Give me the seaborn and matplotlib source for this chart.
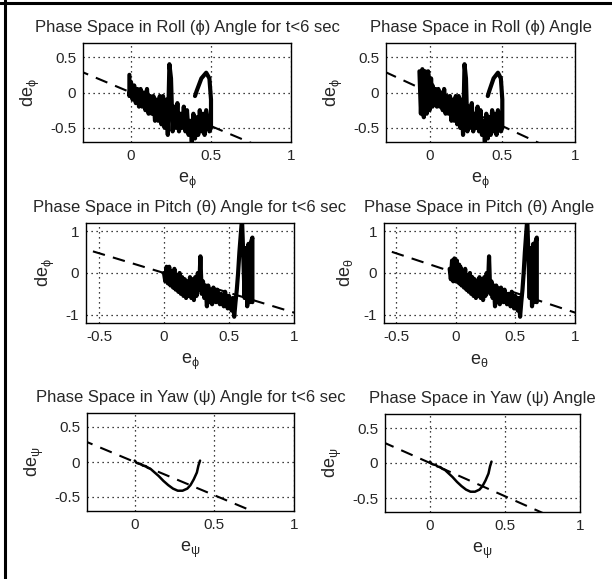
import numpy as np
import matplotlib
matplotlib.use("Agg")
import matplotlib.pyplot as plt
import seaborn as sns
from matplotlib.lines import Line2D

sns.set_style("white")
plt.rcParams['font.family'] = ['Liberation Sans', 'DejaVu Sans']
plt.rcParams['mathtext.default'] = 'regular'
plt.rcParams['font.size'] = 11

# sliding surface slope (de = slope * e)
surface_slope = -0.95
surface_e = [-0.7, 1.1]

# roll, t < 6 s
roll_e_t6 = [0.40, 0.41, 0.44, 0.47, 0.49, 0.50, 0.50, 0.49,
             0.47, 0.46, 0.45, 0.44, 0.43, 0.42, 0.41, 0.40, 0.39, 0.38, 0.37, 0.36,
             0.35, 0.34, 0.33, 0.32, 0.31, 0.30, 0.29, 0.28, 0.27, 0.26, 0.25, 0.24,
             0.23, 0.22, 0.21, 0.20, 0.19, 0.18, 0.17, 0.16, 0.15, 0.14, 0.13, 0.12,
             0.11, 0.10, 0.09, 0.08, 0.07, 0.06, 0.05, 0.04, 0.03, 0.02, 0.01, 0.00,
             -0.01, -0.01]
roll_de_t6 = [-0.05, 0.02, 0.20, 0.28, 0.20, -0.10, -0.50, -0.55,
              -0.25, -0.60, -0.30, -0.55, -0.25, -0.60, -0.35, -0.65, -0.30, -0.70, -0.40, -0.60,
              -0.25, -0.55, -0.20, -0.50, -0.30, -0.55, -0.15, -0.50, -0.20, -0.55, 0.20, 0.40,
              -0.60, -0.10, -0.50, -0.05, -0.45, -0.05, -0.40, -0.10, -0.40, -0.05, -0.30, -0.05,
              -0.30, 0.05, -0.25, 0.00, -0.20, 0.05, -0.20, 0.05, -0.15, 0.10, -0.10, 0.15,
              -0.05, 0.25]
# roll, extra chattering near the origin for the full run
roll_e_extra = [-0.07, -0.06, -0.05, -0.04, -0.03, -0.02, -0.01, 0.00, 0.01, 0.02, 0.00]
roll_de_extra = [0.30, -0.30, 0.33, -0.35, 0.30, -0.30, 0.30, -0.25, 0.20, -0.20, 0.00]

# pitch, t < 6 s
pitch_e_t6 = [0.00, 0.01, 0.02, 0.03, 0.04, 0.05, 0.06, 0.07, 0.08, 0.09, 0.10, 0.11,
              0.12, 0.13, 0.14, 0.15, 0.16, 0.17, 0.18, 0.19, 0.20, 0.21, 0.22, 0.23,
              0.24, 0.25, 0.26, 0.27, 0.28, 0.29, 0.30, 0.31, 0.32, 0.33, 0.34, 0.35,
              0.36, 0.37, 0.38, 0.40, 0.41, 0.43, 0.44, 0.46, 0.47, 0.49, 0.50, 0.52,
              0.53, 0.54, 0.55, 0.56, 0.57, 0.58, 0.59, 0.60, 0.61, 0.62, 0.63, 0.64,
              0.65, 0.66, 0.67, 0.68, 0.68]
pitch_de_t6 = [0.00, -0.20, 0.15, -0.25, 0.15, -0.30, 0.05, -0.35, 0.10, -0.40, -0.05, -0.45,
               0.00, -0.50, -0.10, -0.55, -0.15, -0.60, -0.20, -0.55, -0.10, -0.60, -0.15, -0.65,
               -0.10, -0.55, 0.00, -0.40, 0.40, -0.50, -0.20, -0.60, -0.30, -0.80, -0.30, -0.70,
               -0.40, -0.75, -0.35, -0.70, -0.40, -0.75, -0.50, -0.80, -0.45, -0.85, -0.55, -0.90,
               -0.60, -1.05, -0.70, -0.40, 0.00, 0.50, 0.90, 1.30, 0.40, -0.60, 0.60, -0.80,
               0.70, -0.70, 0.75, 0.85, -0.70]
pitch_e_extra = [-0.05, -0.04, -0.03, -0.02, -0.01, 0.00, 0.01, 0.02, 0.03, 0.00]
pitch_de_extra = [0.10, -0.15, 0.30, -0.20, 0.35, -0.20, 0.30, -0.15, 0.20, 0.00]

# yaw
yaw_e = [0.00, 0.01, 0.02, 0.04, 0.05, 0.07, 0.08, 0.10, 0.12, 0.15, 0.18, 0.21,
         0.24, 0.27, 0.30, 0.33, 0.35, 0.37, 0.39, 0.40, 0.41]
yaw_de = [0.02, -0.01, -0.02, -0.03, -0.05, -0.06, -0.08, -0.10, -0.14, -0.20, -0.27, -0.33,
          -0.38, -0.41, -0.41, -0.38, -0.33, -0.25, -0.15, -0.05, 0.02]

W, H = 612, 579
fig = plt.figure(figsize=(W / 100, H / 100), dpi=100)

panels = [
    # (left, top, right, bottom) px, title, e, de, xlabel, ylabel, xlim, ylim, xticks, yticks
    ((83, 43, 291, 142), 'Phase Space in Roll (ϕ) Angle for t<6 sec',
     roll_e_t6, roll_de_t6, 'e$_ϕ$', 'de$_ϕ$', (-0.3, 1), (-0.7, 0.7), [0, 0.5, 1], [-0.5, 0, 0.5]),
    ((386, 43, 575, 142), 'Phase Space in Roll (ϕ) Angle',
     roll_e_t6 + roll_e_extra, roll_de_t6 + roll_de_extra, 'e$_ϕ$', 'de$_ϕ$',
     (-0.3, 1), (-0.7, 0.7), [0, 0.5, 1], [-0.5, 0, 0.5]),
    ((86, 223, 294, 323), 'Phase Space in Pitch (θ) Angle for t<6 sec',
     pitch_e_t6, pitch_de_t6, 'e$_ϕ$', 'de$_ϕ$', (-0.6, 1), (-1.2, 1.2), [-0.5, 0, 0.5, 1], [-1, 0, 1]),
    ((384, 223, 575, 323), 'Phase Space in Pitch (θ) Angle',
     pitch_e_extra + pitch_e_t6, pitch_de_extra + pitch_de_t6, 'e$_θ$', 'de$_θ$',
     (-0.6, 1), (-1.2, 1.2), [-0.5, 0, 0.5, 1], [-1, 0, 1]),
    ((87, 413, 294, 511), 'Phase Space in Yaw (ψ) Angle for t<6 sec',
     yaw_e, yaw_de, 'e$_ψ$', 'de$_ψ$', (-0.3, 1), (-0.7, 0.7), [0, 0.5, 1], [-0.5, 0, 0.5]),
    ((385, 414, 580, 512), 'Phase Space in Yaw (ψ) Angle',
     yaw_e, yaw_de, 'e$_ψ$', 'de$_ψ$', (-0.3, 1), (-0.7, 0.7), [0, 0.5, 1], [-0.5, 0, 0.5]),
]

for (l, t, r, b), title, e, de, xl, yl, xlim, ylim, xt, yt in panels:
    ax = fig.add_axes([l / W, 1 - b / H, (r - l) / W, (b - t) / H])
    s_de = [surface_slope * v for v in surface_e]
    ax.plot(surface_e, s_de, color='k', lw=1.5, ls=(0, (6, 4)))
    lw = 1.8 if 'Yaw' in title else 3.0
    sns.lineplot(x=e, y=de, sort=False, estimator=None, color='k', lw=lw, ax=ax)
    ax.set_xlim(*xlim)
    ax.set_ylim(*ylim)
    ax.set_xticks(xt)
    ax.set_yticks(yt)
    ax.set_xticklabels(['%g' % v for v in xt])
    ax.set_yticklabels(['%g' % v for v in yt])
    ax.grid(True, color='k', ls=(0, (1, 3)), lw=0.9)
    for sp in ax.spines.values():
        sp.set_color('k')
        sp.set_linewidth(1.0)
    ax.tick_params(direction='in', length=3, color='k', labelsize=11, pad=5)
    ax.set_title(title, fontsize=12, pad=8)
    ax.set_xlabel(xl, fontsize=13, labelpad=6)
    ax.set_ylabel(yl, fontsize=13, labelpad=6)

# frame edges visible in the cropped screenshot
fig.add_artist(Line2D([0, 1], [1 - 2.5 / H, 1 - 2.5 / H], color='k', lw=2.2, transform=fig.transFigure))
fig.add_artist(Line2D([4.5 / W, 4.5 / W], [0, 1], color='k', lw=2.2, transform=fig.transFigure))

fig.savefig('out.png', dpi=100)
